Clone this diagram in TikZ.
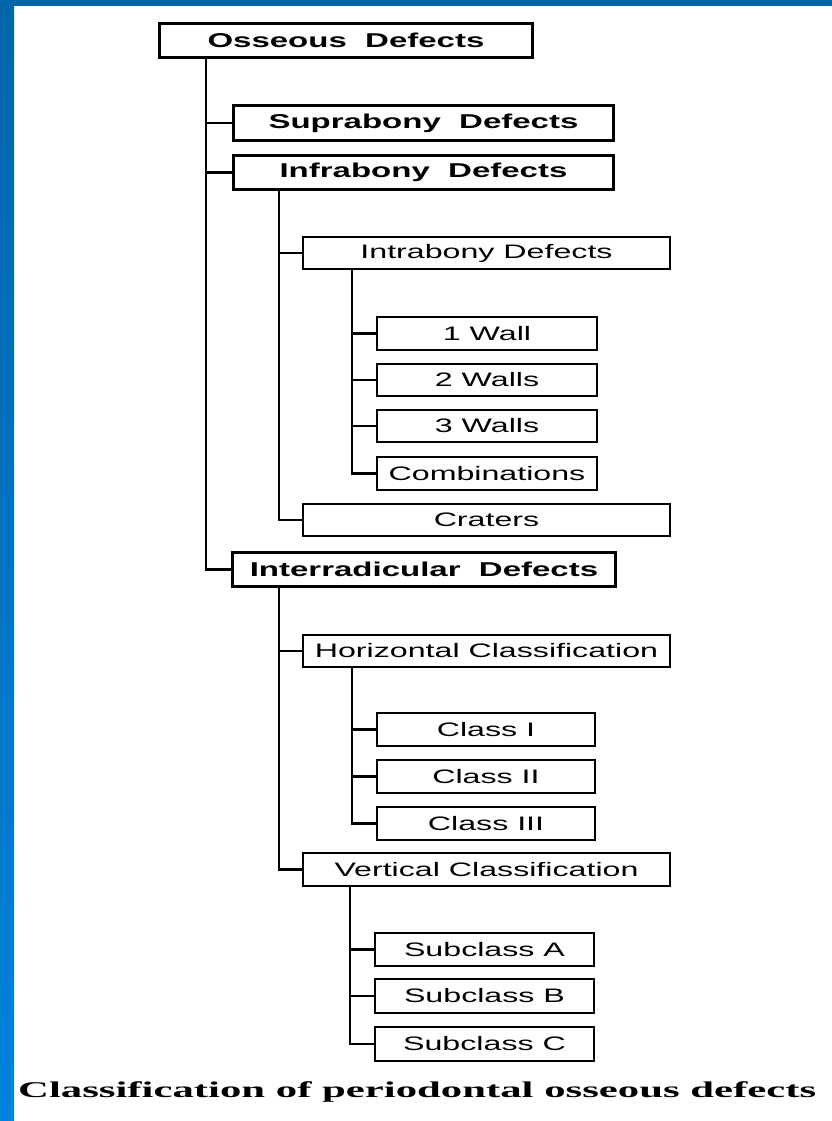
\documentclass[tikz,border=0pt]{standalone}
\usepackage{fontspec}
\newfontfamily\boxfont[FakeStretch=1.65]{Liberation Sans}
\newfontfamily\capfont[FakeStretch=1.9]{Liberation Serif}
\definecolor{bandtop}{HTML}{0066AA}
\definecolor{bandbot}{HTML}{0082DE}
\tikzset{
  base/.style={draw=black, fill=white, inner sep=0pt, outer sep=0pt, text=black},
  mainbox/.style={base, line width=3.6pt, font=\boxfont\bfseries\fontsize{20}{22}\selectfont},
  subbox/.style={base, line width=2pt, font=\boxfont\fontsize{19.5}{22}\selectfont},
  conn/.style={line width=2.2pt, black},
  trunk/.style={line width=2.8pt, black},
  captxt/.style={inner sep=0pt, font=\capfont\bfseries\fontsize{22.5}{24}\selectfont}
}
\begin{document}
\begin{tikzpicture}[x=1pt, y=-1pt]
\useasboundingbox (0,0) rectangle (832,1121);
\fill[white] (0,0) rectangle (832,1121);
% blue frame
\shade[top color=bandtop, bottom color=bandbot] (0,0) rectangle (14,1121);
\fill[bandtop] (0,0) rectangle (832,6);

% trunk coordinates
\coordinate (t1) at (206,0);
\coordinate (t2) at (279,0);
\coordinate (t3) at (352,0);
\coordinate (t4) at (279,0);
\coordinate (t5) at (352,0);
\coordinate (t6) at (350,0);

% boxes
\node[mainbox, minimum width=373pt, minimum height=34pt] (oss) at (346,40.5) {Osseous\ \ Defects};
\node[mainbox, minimum width=380pt, minimum height=35pt] (supra) at (423.5,123) {Suprabony\ \ Defects};
\node[mainbox, minimum width=380pt, minimum height=34pt] (infra) at (423.5,172.5) {Infrabony\ \ Defects};
\node[subbox, minimum width=367pt, minimum height=32pt] (intra) at (486.5,253) {Intrabony Defects};
\node[subbox, minimum width=220pt, minimum height=33pt] (w1) at (487,333.5) {1 Wall};
\node[subbox, minimum width=220pt, minimum height=32pt] (w2) at (487,380) {2 Walls};
\node[subbox, minimum width=220pt, minimum height=32pt] (w3) at (487,426) {3 Walls};
\node[subbox, minimum width=220pt, minimum height=33pt] (comb) at (487,473.5) {Combinations};
\node[subbox, minimum width=367pt, minimum height=32pt] (crat) at (486.5,520) {Craters};
\node[mainbox, minimum width=383pt, minimum height=34pt] (inter) at (424,569.5) {Interradicular\ \ Defects};
\node[subbox, minimum width=367pt, minimum height=32pt] (horiz) at (486.5,651) {Horizontal Classification};
\node[subbox, minimum width=218pt, minimum height=33pt] (c1) at (486,729.5) {Class I};
\node[subbox, minimum width=218pt, minimum height=33pt] (c2) at (486,776.5) {Class II};
\node[subbox, minimum width=218pt, minimum height=33pt] (c3) at (486,823.5) {Class III};
\node[subbox, minimum width=367pt, minimum height=33pt] (vert) at (486.5,869.5) {Vertical Classification};
\node[subbox, minimum width=219pt, minimum height=33pt] (sa) at (484.5,949.5) {Subclass A};
\node[subbox, minimum width=219pt, minimum height=34pt] (sb) at (484.5,996) {Subclass B};
\node[subbox, minimum width=219pt, minimum height=34pt] (sc) at (484.5,1044) {Subclass C};

% connectors
\draw[trunk] (oss.south -| t1) |- (inter.west);
\draw[conn] (t1 |- supra.west) -- (supra.west);
\draw[conn] (t1 |- infra.west) -- (infra.west);

\draw[trunk] (infra.south -| t2) |- (crat.west);
\draw[conn] (t2 |- intra.west) -- (intra.west);

\draw[trunk] (intra.south -| t3) |- (comb.west);
\draw[conn] (t3 |- w1.west) -- (w1.west);
\draw[conn] (t3 |- w2.west) -- (w2.west);
\draw[conn] (t3 |- w3.west) -- (w3.west);

\draw[trunk] (inter.south -| t4) |- (vert.west);
\draw[conn] (t4 |- horiz.west) -- (horiz.west);

\draw[trunk] (horiz.south -| t5) |- (c3.west);
\draw[conn] (t5 |- c1.west) -- (c1.west);
\draw[conn] (t5 |- c2.west) -- (c2.west);

\draw[trunk] (vert.south -| t6) |- (sc.west);
\draw[conn] (t6 |- sa.west) -- (sa.west);
\draw[conn] (t6 |- sb.west) -- (sb.west);

% redraw box outlines on top of connector ends
\foreach \n in {oss,supra,infra,inter}{\draw[line width=3.6pt] (\n.north west) rectangle (\n.south east);}
\foreach \n in {intra,w1,w2,w3,comb,crat,horiz,c1,c2,c3,vert,sa,sb,sc}{\draw[line width=2pt] (\n.north west) rectangle (\n.south east);}

% caption
\node[captxt, anchor=base west] (cap) at (18,1097) {Classification of periodontal osseous defects};
\end{tikzpicture}
\end{document}
